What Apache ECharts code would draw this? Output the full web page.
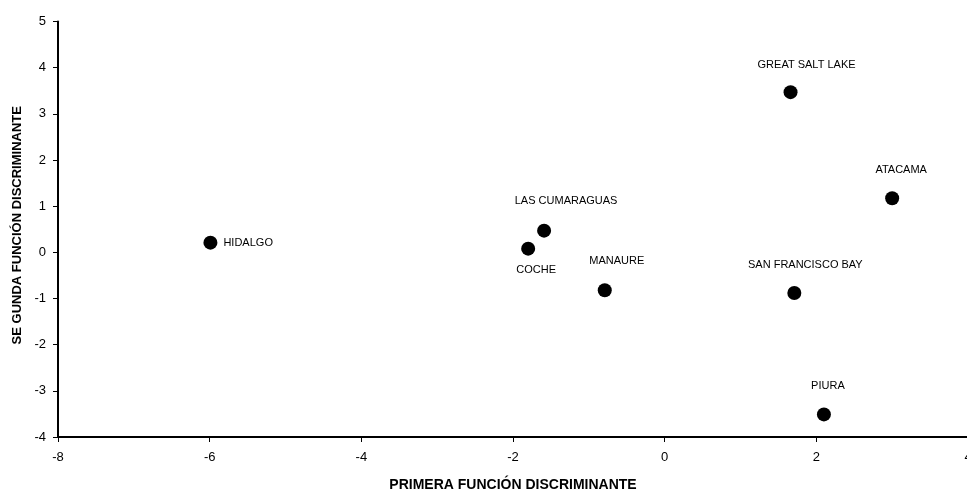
<!DOCTYPE html>
<html>
<head>
<meta charset="utf-8">
<script src="https://cdn.jsdelivr.net/npm/echarts@6/dist/echarts.min.js"></script>
<style>
html,body{margin:0;padding:0;background:#fff;}
#chart{width:967px;height:491px;}
</style>
</head>
<body>
<div id="chart"></div>
<script>
// Data
var sites = ['HIDALGO', 'COCHE', 'LAS CUMARAGUAS', 'MANAURE', 'GREAT SALT LAKE', 'ATACAMA', 'SAN FRANCISCO BAY', 'PIURA'];
var primera = [-5.99, -1.80, -1.59, -0.79, 1.66, 3.00, 1.71, 2.10];
var segunda = [0.21, 0.08, 0.47, -0.82, 3.47, 1.17, -0.88, -3.51];
var xTicks = [-8, -6, -4, -2, 0, 2, 4];
var yTicks = [-4, -3, -2, -1, 0, 1, 2, 3, 4, 5];
var xTitle = 'PRIMERA FUNCIÓN DISCRIMINANTE';
var yTitle = 'SE GUNDA FUNCIÓN DISCRIMINANTE';

// Label placement (style)
var labelStyle = {
  'HIDALGO': {position: 'right', distance: 6, offset: [0, 0]},
  'COCHE': {position: 'bottom', distance: 9, offset: [8, 0]},
  'LAS CUMARAGUAS': {position: 'top', distance: 17, offset: [22, 0]},
  'MANAURE': {position: 'top', distance: 17, offset: [12, 0]},
  'GREAT SALT LAKE': {position: 'top', distance: 15, offset: [16, 0]},
  'ATACAMA': {position: 'top', distance: 16, offset: [9, 0]},
  'SAN FRANCISCO BAY': {position: 'top', distance: 15, offset: [11, 0]},
  'PIURA': {position: 'top', distance: 16, offset: [4, 0]}
};

var FONT = '"Liberation Sans", Arial, sans-serif';
var data = sites.map(function (n, i) {
  var ls = labelStyle[n];
  return {
    name: n,
    value: [primera[i], segunda[i]],
    label: {
      show: true,
      formatter: n,
      position: ls.position,
      distance: ls.distance,
      offset: ls.offset,
      color: '#000',
      fontSize: 11,
      fontFamily: FONT
    }
  };
});

var chart = echarts.init(document.getElementById('chart'), null, {renderer: 'canvas'});
chart.setOption({
  animation: false,
  backgroundColor: '#fff',
  grid: {left: 58, right: -1, top: 21.5, bottom: 54, containLabel: false, outerBoundsMode: 'none'},
  xAxis: {
    type: 'value',
    min: xTicks[0], max: xTicks[xTicks.length - 1], interval: 2,
    name: xTitle, nameLocation: 'middle', nameGap: 41,
    nameTextStyle: {fontWeight: 'bold', fontSize: 14, color: '#000', fontFamily: FONT},
    axisLine: {show: true, onZero: false, lineStyle: {color: '#000', width: 2}},
    axisTick: {show: true, inside: false, length: 5, lineStyle: {color: '#000', width: 1}},
    axisLabel: {color: '#000', fontSize: 13, margin: 14, fontFamily: FONT, showMaxLabel: true, showMinLabel: true},
    splitLine: {show: false}
  },
  yAxis: {
    type: 'value',
    min: yTicks[0], max: yTicks[yTicks.length - 1], interval: 1,
    name: yTitle, nameLocation: 'middle', nameGap: 34, nameRotate: 90,
    nameTextStyle: {fontWeight: 'bold', fontSize: 13, color: '#000', fontFamily: FONT, padding: [0, 0, 0, 8]},
    axisLine: {show: true, onZero: false, lineStyle: {color: '#000', width: 2}},
    axisTick: {show: true, inside: false, length: 5, lineStyle: {color: '#000', width: 1}},
    axisLabel: {color: '#000', fontSize: 13, margin: 12, fontFamily: FONT},
    splitLine: {show: false}
  },
  series: [{
    type: 'scatter',
    symbol: 'circle',
    symbolSize: 14,
    itemStyle: {color: '#000', opacity: 1},
    emphasis: {disabled: true},
    clip: false,
    data: data
  }]
});
</script>
</body>
</html>
